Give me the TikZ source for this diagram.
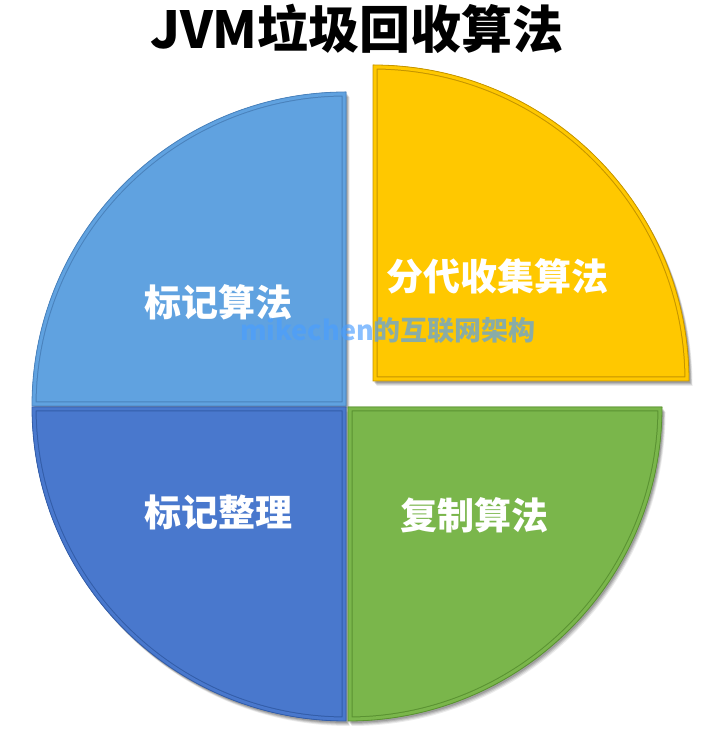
\documentclass[tikz,border=0pt]{standalone}
\usepackage{fontspec}
\newfontfamily\cjk{Noto Sans CJK SC}
\definecolor{lblue}{HTML}{60A2E0}
\definecolor{lblueD}{HTML}{4A82BC}
\definecolor{dblue}{HTML}{4978CD}
\definecolor{dblueD}{HTML}{335DA8}
\definecolor{pgreen}{HTML}{7AB64B}
\definecolor{pgreenD}{HTML}{5A9232}
\definecolor{pyellow}{HTML}{FFC800}
\definecolor{pyellowD}{HTML}{C49400}
\definecolor{wmark}{HTML}{4A9EFF}
\tikzset{
  lbl/.style={font=\cjk\bfseries\fontsize{37}{37}\selectfont, text=white, inner sep=0pt},
  ttl/.style={font=\cjk\bfseries\fontsize{51}{51}\selectfont, text=black, inner sep=0pt},
  wm/.style={font=\cjk\bfseries\fontsize{27}{27}\selectfont, text=wmark, text opacity=0.65, inner sep=0pt},
}
\usetikzlibrary{calc}
% slice: #1 corner, #2 start angle, #3 radius, #4 fill, #5 dark
\newcommand{\pieslice}[5]{%
  \foreach \o/\op in {5/0.08,4/0.1,3/0.12,2/0.14}{%
    \fill[black, opacity=\op] ($#1+(\o*0.7,-\o)$) -- ++(#2:#3) arc[start angle=#2, end angle=#2+90, radius=#3] -- cycle;}
  \fill[#4] #1 -- ++(#2:#3) arc[start angle=#2, end angle=#2+90, radius=#3] -- cycle;
  \begin{scope}
    \clip #1 -- ++(#2:#3) arc[start angle=#2, end angle=#2+90, radius=#3] -- cycle;
    \draw[#5, line width=9pt] #1 -- ++(#2:#3) arc[start angle=#2, end angle=#2+90, radius=#3] -- cycle;
    \draw[#4, line width=7pt] #1 -- ++(#2:#3) arc[start angle=#2, end angle=#2+90, radius=#3] -- cycle;
  \end{scope}
  \draw[#5, line width=0.8pt] #1 -- ++(#2:#3) arc[start angle=#2, end angle=#2+90, radius=#3] -- cycle;
}
\begin{document}
\begin{tikzpicture}[x=1pt,y=1pt]
\useasboundingbox[fill=white] (0,0) rectangle (725,736);
\pieslice{(346,330)}{90}{314}{lblue}{lblueD}
\pieslice{(346,329)}{180}{314}{dblue}{dblueD}
\pieslice{(348,329)}{270}{314}{pgreen}{pgreenD}
\pieslice{(373,355)}{0}{316}{pyellow}{pyellowD}
\node[ttl] (title) at (357,707) {JVM垃圾回收算法};
\node[lbl] (mark) at (218,434) {标记算法};
\node[lbl] (gen) at (497,460) {分代收集算法};
\node[lbl] (compact) at (218,224) {标记整理};
\node[lbl] (copy) at (474,221) {复制算法};
\node[wm] (wmk) at (388,406) {mikechen的互联网架构};
\end{tikzpicture}
\end{document}
